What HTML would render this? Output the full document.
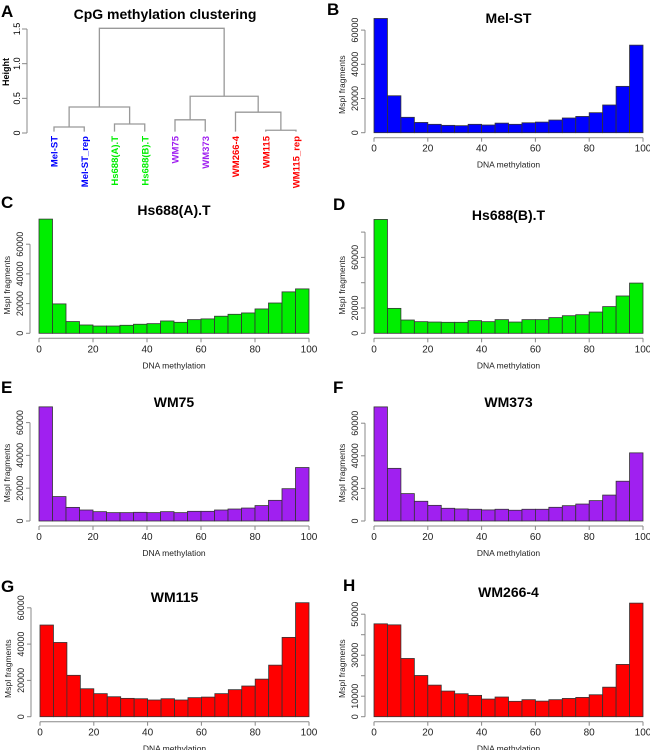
<!DOCTYPE html>
<html><head><meta charset="utf-8">
<style>
body{margin:0;background:#fff;}
svg{display:block;font-family:"Liberation Sans",Arial,sans-serif;}
</style></head>
<body>
<svg id="fig" width="650" height="750" viewBox="0 0 650 750"></svg>
<script>
// ---- data (values in thousands of MspI fragments per 5% bin) ----
const bins = [0,5,10,15,20,25,30,35,40,45,50,55,60,65,70,75,80,85,90,95];
const melST   = [66.8,21.6,9.0,6.0,4.9,4.3,4.1,4.9,4.5,5.6,4.9,5.8,6.2,7.4,8.6,9.5,11.7,16.2,27.1,51.2];
const hs688A  = [76.9,19.8,7.9,5.6,4.9,4.9,5.4,6.1,6.5,8.3,7.4,9.2,9.7,11.5,12.8,13.7,16.4,20.4,27.9,29.9];
const hs688B  = [90,19.7,10.5,9.2,8.9,8.7,8.7,10,9.2,10.8,8.9,10.8,10.8,12.4,13.9,14.7,16.8,21.1,29.5,39.7];
const wm75    = [69.6,14.9,8.3,6.7,5.7,5.1,5.1,5.3,5.1,5.7,5.1,5.9,5.9,6.7,7.3,7.9,9.4,12.6,19.7,32.6];
const wm373   = [70,32.3,16.8,12.1,9.6,7.8,7.4,7.2,6.8,7.2,6.6,7.2,7.2,8.4,9.4,10.4,12.5,15.9,24.4,41.8];
const wm115   = [50.5,40.9,22.8,15.4,12.7,11,10.1,9.9,9.2,9.9,9.2,10.5,10.8,12.7,14.9,16.9,20.7,28.4,43.7,62.8];
const wm2664  = [45.3,44.8,28.4,20.1,15.4,12.5,11.2,10.4,8.6,9.6,7.5,8.3,7.6,8.3,8.9,9.4,10.7,14.4,25.5,55.4];
const xTicks = [0,20,40,60,80,100];
const yTicks60 = [0,20,40,60];
const yTicks80 = [0,20,40,60,80];
const yLabels80 = ["0","20000","","60000",""];
const yTicks50 = [0,10,20,30,40,50];
const yLabels50 = ["0","10000","","30000","","50000"];
// dendrogram
const leafNames = ["Mel-ST","Mel-ST_rep","Hs688(A).T","Hs688(B).T","WM75","WM373","WM266-4","WM115","WM115_rep"];
const leafColors = ["#0000ff","#0000ff","#00ee00","#00ee00","#a020f0","#a020f0","#ff0000","#ff0000","#ff0000"];
const mergeHeights = [0.087,0.13,0.375,0.19,0.04,0.30,0.53,1.51];
const heightTicks = [0,0.5,1.0,1.5];
const heightLabels = ["0","0.5","1.0","1.5"];

const NS="http://www.w3.org/2000/svg";
const svg=document.getElementById('fig');
function mk(tag,attrs,parent){const e=document.createElementNS(NS,tag);for(const k in attrs)e.setAttribute(k,attrs[k]);(parent||svg).appendChild(e);return e;}
function txt(s,attrs,parent){const e=mk('text',attrs,parent);e.textContent=s;return e;}

// ---- Panel A: dendrogram ----
(function(){
  const g=mk('g',{});
  
  
  const hy=h=>133-h*(104/1.5);
  const lx=i=>54+i*30.25;
  const L=txt('A',{x:1,y:17,'font-size':17,'font-weight':'bold'},g);
  
  const t=txt('CpG methylation clustering',{x:165,y:19,'font-size':14,'font-weight':'bold','text-anchor':'middle'},g);
  
  const ax=mk('line',{x1:27,x2:27,y1:hy(0),y2:hy(1.5),stroke:'#888','stroke-width':1},g);
  
  heightTicks.forEach((v,i)=>{
    mk('line',{x1:22,x2:27,y1:hy(v),y2:hy(v),stroke:'#888'},g);
    const tl=txt(heightLabels[i],{x:0,y:0,'font-size':9,'text-anchor':'middle',transform:`translate(20,${hy(v)}) rotate(-90)`},g);
    
  });
  const ht=txt('Height',{x:0,y:0,'font-size':9,'font-weight':'bold','text-anchor':'middle',transform:'translate(9,72) rotate(-90)'},g);
  
  const col='#999';
  function U(xa,ha,xb,hb,h){ // draw merge
    mk('path',{d:`M${xa},${hy(ha)}V${hy(h)}H${xb}V${hy(hb)}`,fill:'none',stroke:col,'stroke-width':1.3},g);
    return (xa+xb)/2;
  }
  const leafH=0.02;
  const m1=U(lx(0),leafH,lx(1),leafH,mergeHeights[0]);
  const m2=U(lx(2),leafH,lx(3),leafH,mergeHeights[1]);
  const m3=U(m1,mergeHeights[0],m2,mergeHeights[1],mergeHeights[2]);
  const m4=U(lx(4),leafH,lx(5),leafH,mergeHeights[3]);
  const m5=U(lx(7),leafH,lx(8),leafH,mergeHeights[4]);
  const m6=U(lx(6),leafH,m5,mergeHeights[4],mergeHeights[5]);
  const m7=U(m4,mergeHeights[3],m6,mergeHeights[5],mergeHeights[6]);
  U(m3,mergeHeights[2],m7,mergeHeights[6],mergeHeights[7]);
  leafNames.forEach((n,i)=>{
    const e=txt(n,{x:0,y:0,'font-size':9.5,'font-weight':'bold',fill:leafColors[i],'text-anchor':'end',transform:`translate(${lx(i)+3.5},136) rotate(-90)`},g);
    
    
  });
})();

// ---- histograms ----
function hist(cfg){
  const g=mk('g',{});
  
  
  const xs=v=>cfg.x0+v/100*(cfg.x1-cfg.x0);
  const ys=v=>cfg.base-v*cfg.pxPer;
  const L=txt(cfg.letter,{x:cfg.lx,y:cfg.ly,'font-size':17,'font-weight':'bold'},g);
  
  const T=txt(cfg.title,{x:(cfg.x0+cfg.x1)/2,y:cfg.ty,'font-size':14,'font-weight':'bold','text-anchor':'middle'},g);
  
  cfg.values.forEach((v,i)=>{
    const a=xs(bins[i]),b=xs(bins[i]+5);
    const r=mk('rect',{x:a,y:ys(v),width:b-a,height:cfg.base-ys(v),fill:cfg.color,stroke:'#333','stroke-width':0.8},g);
    
    
  });
  // x axis
  const xa=cfg.base+5;
  const xl=mk('line',{x1:xs(0),x2:xs(100),y1:xa,y2:xa,stroke:'#888'},g);
  
  xTicks.forEach(v=>{
    mk('line',{x1:xs(v),x2:xs(v),y1:xa,y2:xa+4,stroke:'#888'},g);
    const e=txt(String(v),{x:xs(v),y:xa+14,'font-size':10,'text-anchor':'middle',fill:'#222'},g);
    
  });
  const xt=txt('DNA methylation',{x:(cfg.x0+cfg.x1)/2,y:xa+30,'font-size':8.5,'text-anchor':'middle',fill:'#222'},g);
  
  // y axis
  const yx=cfg.x0-9;
  const tk=cfg.yticks;
  const yl=mk('line',{x1:yx,x2:yx,y1:ys(tk[0]),y2:ys(tk[tk.length-1]),stroke:'#888'},g);
  
  tk.forEach((v,i)=>{
    mk('line',{x1:yx-4,x2:yx,y1:ys(v),y2:ys(v),stroke:'#888'},g);
    const s=cfg.ylabels[i];
    if(s){
      const e=txt(s,{x:0,y:0,'font-size':9,'text-anchor':'middle',fill:'#222',transform:`translate(${yx-7},${ys(v)}) rotate(-90)`},g);
      
    }
  });
  const yt=txt('MspI fragments',{x:0,y:0,'font-size':8.5,'text-anchor':'middle',fill:'#222',transform:`translate(${yx-20},${cfg.base-48}) rotate(-90)`},g);
  
}
const lab60=["0","20000","40000","60000"];
hist({name:'histogram-mel-st',letter:'B',title:'Mel-ST',color:'#0000ff',values:melST,x0:374,x1:643,base:132.7,pxPer:34.2/20,yticks:yTicks60,ylabels:lab60,lx:327,ly:15,ty:23});
hist({name:'histogram-hs688a',letter:'C',title:'Hs688(A).T',color:'#00ee00',values:hs688A,x0:39,x1:309,base:333.3,pxPer:29.7/20,yticks:yTicks60,ylabels:lab60,lx:1,ly:208,ty:215});
hist({name:'histogram-hs688b',letter:'D',title:'Hs688(B).T',color:'#00ee00',values:hs688B,x0:374,x1:643,base:333.3,pxPer:25.3/20,yticks:yTicks80,ylabels:yLabels80,lx:333,ly:210,ty:220});
hist({name:'histogram-wm75',letter:'E',title:'WM75',color:'#a020f0',values:wm75,x0:39,x1:309,base:521,pxPer:32.8/20,yticks:yTicks60,ylabels:lab60,lx:1,ly:393,ty:407});
hist({name:'histogram-wm373',letter:'F',title:'WM373',color:'#a020f0',values:wm373,x0:374,x1:643,base:521,pxPer:32.6/20,yticks:yTicks60,ylabels:lab60,lx:333,ly:393,ty:407});
hist({name:'histogram-wm115',letter:'G',title:'WM115',color:'#ff0000',values:wm115,x0:40,x1:309,base:716.7,pxPer:36.3/20,yticks:yTicks60,ylabels:lab60,lx:1,ly:592,ty:602});
hist({name:'histogram-wm266-4',letter:'H',title:'WM266-4',color:'#ff0000',values:wm2664,x0:374,x1:643,base:716.7,pxPer:20.5/10,yticks:yTicks50,ylabels:yLabels50,lx:343,ly:591,ty:597});
</script>
</body></html>
